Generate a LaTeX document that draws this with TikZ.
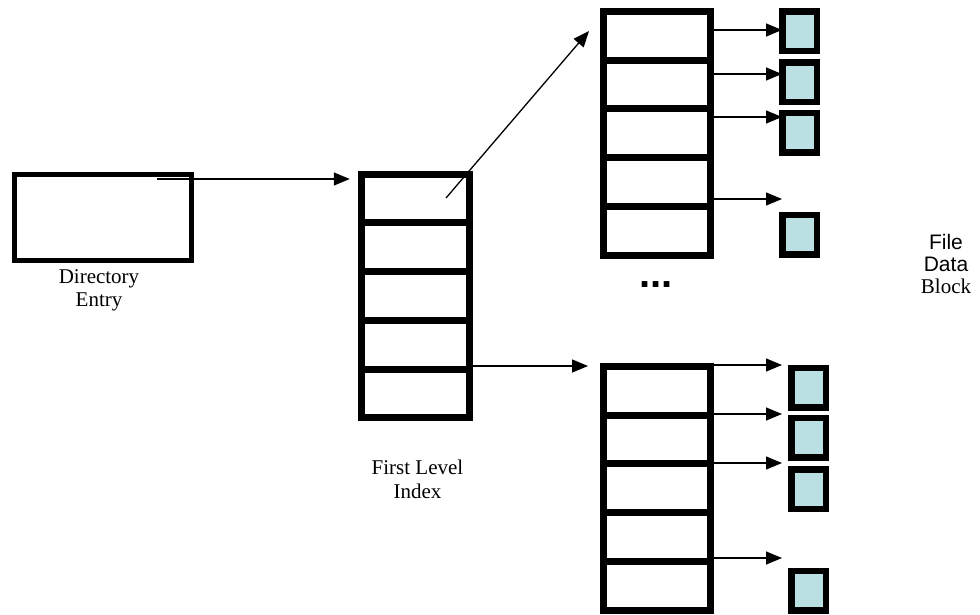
\documentclass[tikz,border=0pt]{standalone}
\usepackage{fontspec}
\setmainfont{Liberation Serif}
\setsansfont{Liberation Sans}
\usetikzlibrary{arrows.meta}
\definecolor{dataclr}{RGB}{187,224,227}
\begin{document}
\begin{tikzpicture}[x=1pt,y=-1pt,
  dirbox/.style={draw,line width=5pt,minimum width=177pt,minimum height=86pt,inner sep=0pt},
  cell/.style={draw,line width=7pt,minimum width=107.5pt,minimum height=48.7pt,inner sep=0pt},
  datab/.style={draw,line width=6.5pt,fill=dataclr,minimum width=34.5pt,minimum height=39.5pt,inner sep=0pt},
  arr/.style={-{Triangle[length=16pt,width=13pt]},line width=1.3pt},
  lbl/.style={align=center,font=\fontsize{21}{23.5}\selectfont,inner sep=0pt}]
\useasboundingbox (0,0) rectangle (980,615);

% directory entry
\node[dirbox] (dir) at (103,217.5) {};

% index blocks
\foreach \i in {1,...,5} {
  \node[cell] (f\i) at (415.5,{174+48.8*(\i-0.5)}) {};
  \node[cell] (t\i) at (656.75,{11.5+48.7*(\i-0.5)}) {};
  \node[cell] (b\i) at (656.75,{366.5+48.7*(\i-0.5)}) {};
}

% data blocks
\node[datab] (d1) at (799.7,31.3) {};
\node[datab] (d2) at (799.7,82.2) {};
\node[datab] (d3) at (799.7,133) {};
\node[datab] (d4) at (799.7,234.7) {};
\node[datab] (e1) at (808.8,387.5) {};
\node[datab] (e2) at (808.8,437.8) {};
\node[datab] (e3) at (808.8,489.2) {};
\node[datab] (e4) at (808.8,590.5) {};

% connectors
\coordinate (dstart) at (157,179);
\draw[arr,shorten >=8.5pt] (dstart) -- (dstart -| f1.west);
\coordinate (fs) at (446,198);
\coordinate (ttip) at (589,31);
\draw[arr] (fs) -- (ttip);
\coordinate (btip) at (588,366);
\draw[arr] (btip -| f5.east) -- (btip);
\foreach \y [count=\k] in {30,74,117,199} {
  \coordinate (tq\k) at (782,\y);
  \draw[arr] (tq\k -| t1.east) -- (tq\k);
}
\foreach \y [count=\k] in {365,414,463,558} {
  \coordinate (bq\k) at (782,\y);
  \draw[arr] (bq\k -| b1.east) -- (bq\k);
}

% labels
\node[lbl] (dirlbl) at (99,290.3) {Directory\\Entry};
\node[lbl] (fillbl) at (417.5,479.4) {First Level\\Index};
\node[lbl,font=\fontsize{21}{22}\selectfont] (fdb) at (946,263.8) {{\sffamily File}\\{\sffamily Data}\\Block};
\node[font=\fontsize{40}{40}\selectfont\sffamily\bfseries,inner sep=0pt] (dots) at (656,285) {...};
\end{tikzpicture}
\end{document}
